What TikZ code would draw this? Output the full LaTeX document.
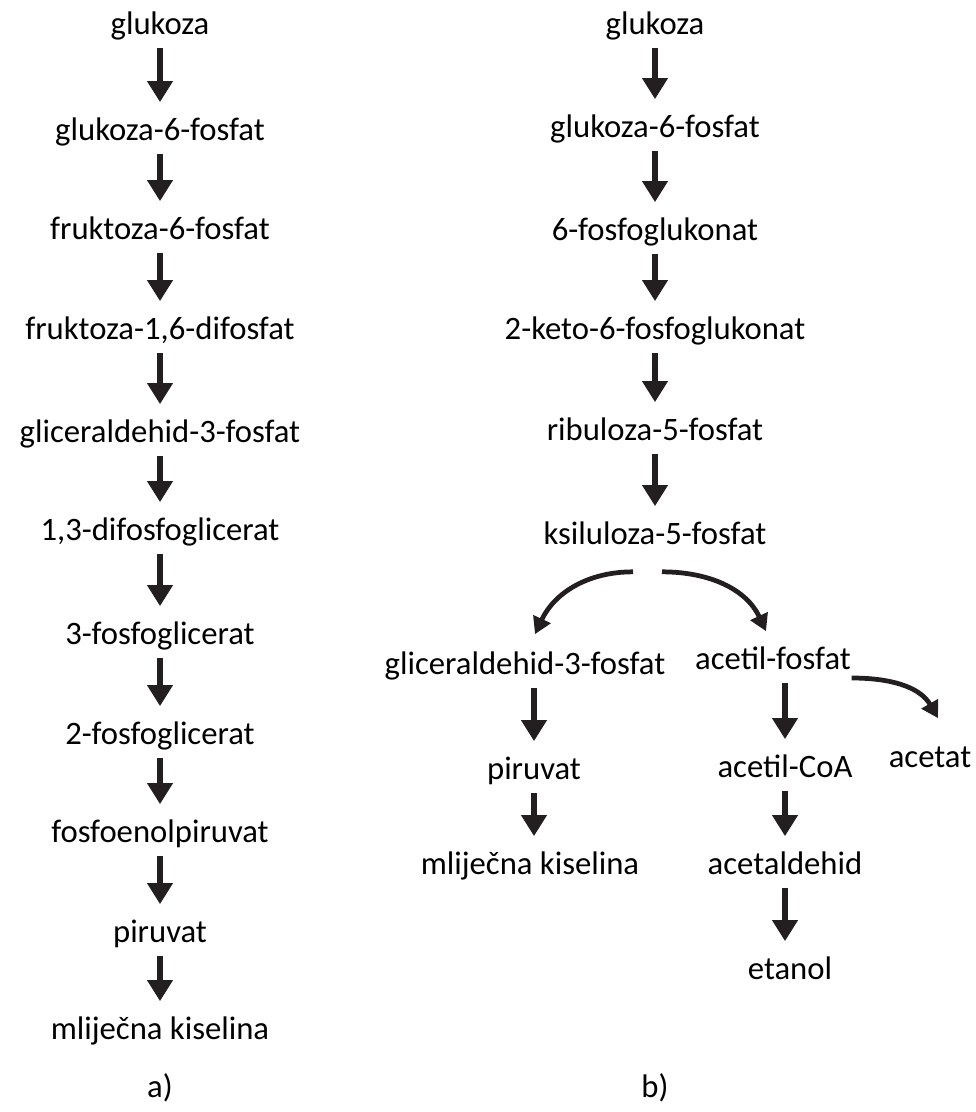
\documentclass[tikz,border=0pt]{standalone}
\usepackage{fontspec}
\setmainfont{Carlito}
\usetikzlibrary{arrows.meta,calc}
\definecolor{ink}{HTML}{231F20}
\begin{document}
\begin{tikzpicture}
[x=0.02cm,y=-0.02cm,
ar/.style={-{Triangle[width=14pt,length=12pt]},line width=3.3pt,ink},
kr/.style={-{Triangle[width=10.5pt,length=9.5pt]},line width=2.7pt,ink},
no/.style={font=\fontsize{18.6}{22}\selectfont,text height=15.5pt,text depth=1.5pt,inner xsep=2pt,inner ysep=6pt}]
\useasboundingbox (0,0) rectangle (976,1112);

% a)
\node [no] at (160,22) (a1) {glukoza};
\node [no] at (160,128) (a2) {glukoza-6-fosfat};
\node [no] at (160,227) (a3) {fruktoza-6-fosfat};
\node [no] at (160,327) (a4) {fruktoza-1,6-difosfat};
\node [no] at (160,430) (a5) {gliceraldehid-3-fosfat};
\node [no] at (160,528) (a6) {1,3-difosfoglicerat};
\node [no] at (160,632) (a7) {3-fosfoglicerat};
\node [no] at (160,732) (a8) {2-fosfoglicerat};
\node [no] at (160,830) (a9) {fosfoenolpiruvat};
\node [no] at (160,930) (a10) {piruvat};
\node [no] at (160,1027) (a11) {mliječna kiselina};
\node [no] at (160,1085) (la) {a)};

\draw [ar] (a1) -- (a2);
\draw [ar] (a2) -- (a3);
\draw [ar] (a3) -- (a4);
\draw [ar] (a4) -- (a5);
\draw [ar] (a5) -- (a6);
\draw [ar] (a6) -- (a7);
\draw [ar] (a7) -- (a8);
\draw [ar] (a8) -- (a9);
\draw [ar] (a9) -- (a10);
\draw [ar] (a10) -- (a11);

% b)
\node [no] at (655,22) (b1) {glukoza};
\node [no] at (655,125) (b2) {glukoza-6-fosfat};
\node [no] at (655,228) (b3) {6-fosfoglukonat};
\node [no] at (655,327) (b4) {2-keto-6-fosfoglukonat};
\node [no] at (655,428) (b5) {ribuloza-5-fosfat};
\node [no] at (655,532) (b6) {ksiluloza-5-fosfat};
\node [no] at (525,662) (g) {gliceraldehid-3-fosfat};
\node [no] at (773,657) (af) {acetil-fosfat};
\node [no] at (534,767) (p) {piruvat};
\node [no] at (530,862) (m) {mliječna kiselina};
\node [no] at (785,765) (ac) {acetil-CoA};
\node [no] at (930,755) (at) {acetat};
\node [no] at (785,862) (ad) {acetaldehid};
\node [no] at (790,967) (e) {etanol};
\node [no] at (655,1085) (lb) {b)};

\draw [ar] (b1) -- (b2);
\draw [ar] (b2) -- (b3);
\draw [ar] (b3) -- (b4);
\draw [ar] (b4) -- (b5);
\draw [ar] (b5) -- (b6);
\draw [kr] ($(b6.south)+(-22,14)$) to [out=180,in=65] ($(g.north)+(10,-2)$);
\draw [kr] ($(b6.south)+(7,14)$) to [out=0,in=115] ($(af.north)+(-7,0)$);
\draw [ar] (g.south -| p) -- (p);
\draw [ar] (p) -- (p |- m.north);
\draw [ar] ($(af.south)+(12,0)$) -- (ac);
\draw [ar] (ac) -- (ad);
\draw [ar] (ad) -- ($(e.north)+(-5,0)$);
\draw [kr] ($(af.east)+(-3,21)$) to [out=0,in=120] ($(at.north)+(8,-11)$);
\end{tikzpicture}
\end{document}
